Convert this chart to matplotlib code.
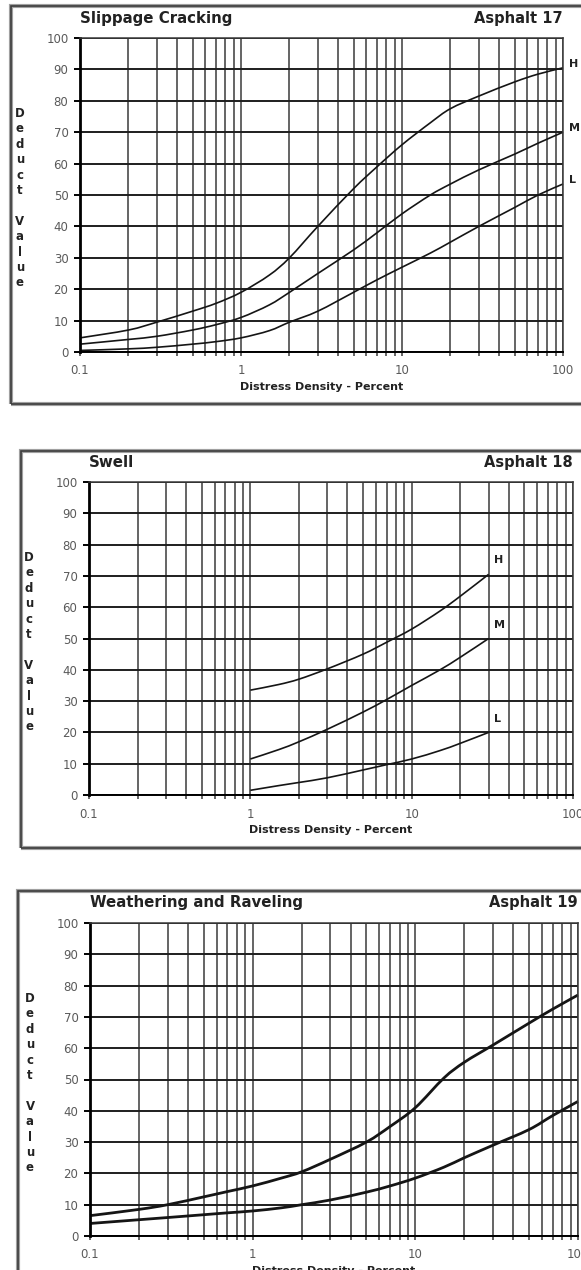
import numpy as np
import matplotlib
matplotlib.use("Agg")
import matplotlib.pyplot as plt
from matplotlib.patches import Rectangle, PathPatch
from matplotlib.path import Path
from matplotlib.ticker import FixedLocator, LogLocator, NullFormatter

W, H = 581, 1270

# Asphalt 17 - Slippage Cracking
slip_x = [0.1, 0.2, 0.3, 0.5, 0.7, 1, 1.5, 2, 3, 5, 7, 10, 15, 20, 30, 50, 70, 100]
slip_h = [4.5, 7, 9.5, 13, 15.5, 19, 24.5, 30, 40, 52, 59, 66, 73, 77.5, 81.5, 86, 88.5, 90.5]
slip_m = [2.5, 4, 5, 7, 8.7, 11, 15, 19, 25, 32.5, 38, 44, 50, 53.5, 58, 63, 66.5, 70]
slip_l = [0.5, 1, 1.5, 2.5, 3.3, 4.5, 6.8, 9.5, 13, 19, 23, 27, 31.5, 35, 40, 46, 50, 53.5]

# Asphalt 18 - Swell
swell_x = [1, 1.5, 2, 3, 5, 7, 10, 15, 20, 30]
swell_h = [33.5, 35.3, 37, 40.3, 45, 48.8, 53, 58.8, 63.5, 70.5]
swell_m = [11.5, 14.5, 17, 21, 26.5, 30.5, 35, 40, 44, 50]
swell_l = [1.5, 3, 4, 5.5, 8, 9.7, 11.5, 14.2, 16.5, 20]

# Asphalt 19 - Weathering and Raveling
weather_x = [0.1, 0.2, 0.3, 0.5, 0.7, 1, 1.5, 2, 3, 5, 7, 10, 15, 20, 30, 50, 70, 100]
weather_hi = [6.5, 8.5, 10, 12.5, 14.2, 16, 18.5, 20.5, 24.5, 30, 35, 41, 50.5, 55.5, 61, 68, 72.5, 77]
weather_lo = [4, 5.2, 5.9, 6.8, 7.4, 8, 9, 10, 11.5, 14, 16, 18.5, 22, 25, 29, 34, 38.5, 43]

x_ticks = [0.1, 1, 10, 100]
x_ticklabels = ["0.1", "1", "10", "100"]
y_ticks = list(range(0, 101, 10))

fig = plt.figure(figsize=(W / 100, H / 100), dpi=100)


def px_axes(left, top, right, bottom):
    return fig.add_axes([left / W, 1 - bottom / H, (right - left) / W, (bottom - top) / H])


def frame(left, top, right, bottom):
    for ec, lw in [("#a0a0a0", 3.0), ("#3c3c3c", 1.2)]:
        r = Rectangle((left / W, 1 - bottom / H), (right - left) / W, (bottom - top) / H,
                      transform=fig.transFigure, fill=False, ec=ec, lw=lw)
        fig.patches.append(r)


def smooth_curve(ax, xs, ys, lw):
    # catmull-rom through the read points, drawn as bezier in log-x space
    lx = np.log10(xs)
    y = np.asarray(ys, dtype=float)
    verts = [(xs[0], y[0])]
    codes = [Path.MOVETO]
    n = len(lx)
    for i in range(n - 1):
        x0, y0 = (lx[i - 1], y[i - 1]) if i > 0 else (lx[i], y[i])
        x1, y1 = lx[i], y[i]
        x2, y2 = lx[i + 1], y[i + 1]
        x3, y3 = (lx[i + 2], y[i + 2]) if i + 2 < n else (lx[i + 1], y[i + 1])
        c1 = (x1 + (x2 - x0) / 6, y1 + (y2 - y0) / 6)
        c2 = (x2 - (x3 - x1) / 6, y2 - (y3 - y1) / 6)
        verts += [(10 ** c1[0], c1[1]), (10 ** c2[0], c2[1]), (10 ** x2, y2)]
        codes += [Path.CURVE4] * 3
    ax.add_patch(PathPatch(Path(verts, codes), fill=False, ec="#151515", lw=lw,
                           transform=ax.transData, clip_on=False))


def chart(box, title, code):
    left, top, right, bottom = box
    ax = px_axes(left, top, right, bottom)
    ax.set_xscale("log")
    ax.set_xlim(0.1, 100)
    ax.set_ylim(0, 100)
    ax.xaxis.set_major_locator(FixedLocator(x_ticks))
    ax.set_xticklabels(x_ticklabels)
    ax.xaxis.set_minor_locator(LogLocator(base=10, subs=np.arange(2, 10)))
    ax.xaxis.set_minor_formatter(NullFormatter())
    ax.set_yticks(y_ticks)
    ax.grid(True, which="both", axis="x", color="#3a3a3a", lw=1.1)
    ax.grid(True, which="major", axis="y", color="#1e1e1e", lw=1.4)
    ax.set_axisbelow(True)
    for s in ax.spines.values():
        s.set_color("#3a3a3a")
        s.set_linewidth(1.1)
    ax.spines["left"].set_color("black")
    ax.spines["left"].set_linewidth(2)
    ax.spines["bottom"].set_color("black")
    ax.spines["bottom"].set_linewidth(1.4)
    ax.tick_params(axis="y", length=4.3, width=1.4, pad=4, labelsize=8.5, labelcolor="#5a5a5a", color="black")
    ax.tick_params(axis="x", which="both", length=3, width=1.1, pad=6, labelsize=8.5,
                   labelcolor="#5a5a5a", color="#3a3a3a")
    ax.set_xlabel("Distress Density - Percent", fontsize=8, fontweight="bold", color="#222222", labelpad=3)
    fig.text(left / W, 1 - (top - 20) / H, title, fontsize=10.8, fontweight="bold", color="#222222",
             ha="left", va="center")
    fig.text(right / W, 1 - (top - 20) / H, code, fontsize=10.5, fontweight="bold", color="#222222",
             ha="right", va="center")
    fig.text((left - 60) / W, 1 - (top + 69) / H, "D\ne\nd\nu\nc\nt\n\nV\na\nl\nu\ne",
             fontsize=8.5, fontweight="bold", color="#222222", ha="center", va="top", linespacing=1.24)
    return ax


frame(11, 6, 600, 404)
ax1 = chart((80, 38, 563, 352), "Slippage Cracking", "Asphalt 17")
for ys in [slip_h, slip_m, slip_l]:
    smooth_curve(ax1, slip_x, ys, 1.2)
for lab, v in zip(["H", "M", "L"], [slip_h[-1], slip_m[-1], slip_l[-1]]):
    ax1.annotate(lab, (100, v), xytext=(4.3, 3), textcoords="offset points", fontsize=8,
                 fontweight="bold", color="#222222", ha="left", va="center", annotation_clip=False)

frame(21, 451, 600, 848)
ax2 = chart((89, 482, 573, 795), "Swell", "Asphalt 18")
for ys in [swell_h, swell_m, swell_l]:
    smooth_curve(ax2, swell_x, ys, 1.2)
for lab, v in zip(["H", "M", "L"], [swell_h[-1], swell_m[-1], swell_l[-1]]):
    ax2.annotate(lab, (30, v), xytext=(4, 10), textcoords="offset points", fontsize=8,
                 fontweight="bold", color="#222222", ha="left", va="center")

frame(18, 891, 600, 1300)
ax3 = chart((90, 923, 578, 1236), "Weathering and Raveling", "Asphalt 19")
for ys in [weather_hi, weather_lo]:
    smooth_curve(ax3, weather_x, ys, 2)

fig.savefig("out.png", dpi=100)
